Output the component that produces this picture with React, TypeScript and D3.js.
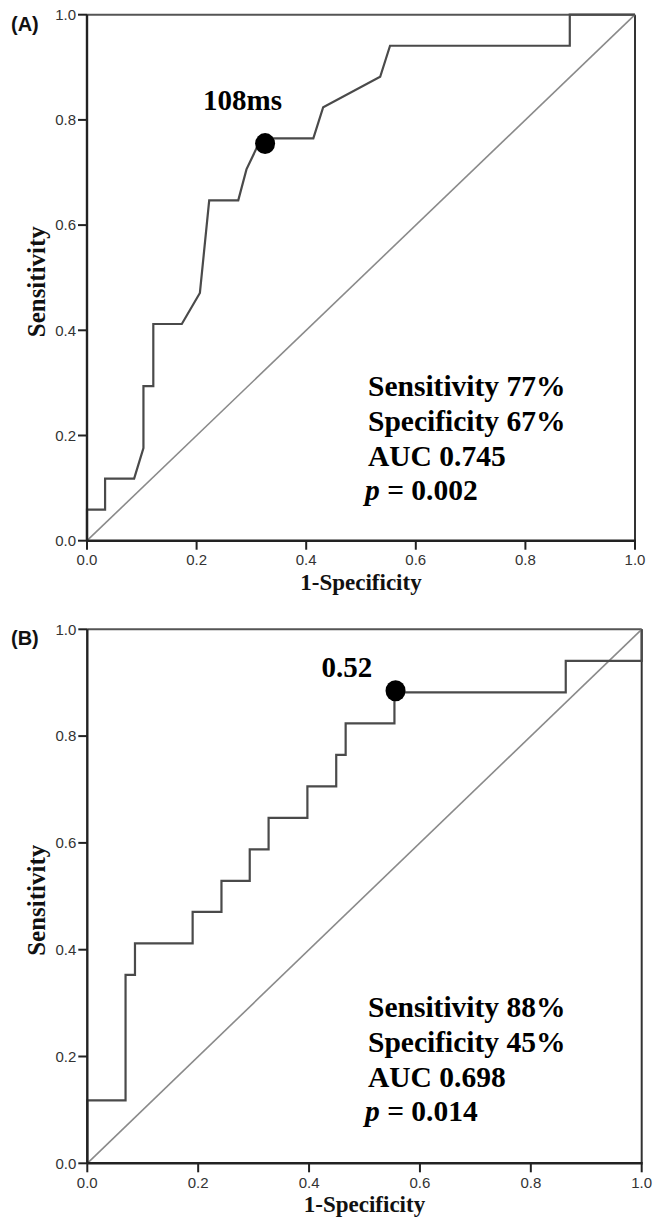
import React from 'react'
import * as d3 from 'd3'

// ROC curve A (1-specificity, sensitivity)
const rocAX = [0, 0, 0.033, 0.033, 0.086, 0.103, 0.103, 0.121, 0.121, 0.173, 0.206, 0.223, 0.276, 0.291, 0.318, 0.413, 0.431, 0.535, 0.553, 0.881, 0.881, 1.0]
const rocAY = [0, 0.059, 0.059, 0.118, 0.118, 0.176, 0.294, 0.294, 0.412, 0.412, 0.471, 0.647, 0.647, 0.706, 0.765, 0.765, 0.824, 0.882, 0.941, 0.941, 1.0, 1.0]

// ROC curve B
const rocBX = [0, 0, 0.069, 0.069, 0.086, 0.086, 0.19, 0.19, 0.242, 0.242, 0.293, 0.293, 0.327, 0.327, 0.397, 0.397, 0.449, 0.449, 0.466, 0.466, 0.554, 0.554, 0.863, 0.863, 1.0, 1.0]
const rocBY = [0, 0.118, 0.118, 0.353, 0.353, 0.412, 0.412, 0.471, 0.471, 0.529, 0.529, 0.588, 0.588, 0.647, 0.647, 0.706, 0.706, 0.765, 0.765, 0.824, 0.824, 0.882, 0.882, 0.941, 0.941, 1.0]

const cutoffA = { x: 0.325, y: 0.755, label: '108ms' }
const cutoffB = { x: 0.556, y: 0.885, label: '0.52' }

const statsA = ['Sensitivity 77%', 'Specificity 67%', 'AUC 0.745', '0.002']
const statsB = ['Sensitivity 88%', 'Specificity 45%', 'AUC 0.698', '0.014']

const tickValues = [0, 0.2, 0.4, 0.6, 0.8, 1.0]

const serif = '"Liberation Serif", "Times New Roman", serif'
const sans = '"Liberation Sans", Arial, sans-serif'

type PanelProps = {
  tag: string
  xs: number[]
  ys: number[]
  cutoff: { x: number; y: number; label: string }
  stats: string[]
  left: number
  right: number
  top: number
  bottom: number
  labelDx: number
  labelDy: number
  statsY: number
}

function Panel(p: PanelProps) {
  const x = d3.scaleLinear().domain([0, 1]).range([p.left, p.right])
  const y = d3.scaleLinear().domain([0, 1]).range([p.bottom, p.top])
  const pts = p.xs.map((v, i) => [v, p.ys[i]] as [number, number])
  const line = d3.line<[number, number]>().x(d => x(d[0])).y(d => y(d[1]))
  const cx = x(p.cutoff.x)
  const cy = y(p.cutoff.y)

  return (
    <g>
      <text x={11} y={p.top + 16} fontFamily={sans} fontWeight="bold" fontSize={20} fill="#111">{p.tag}</text>

      {/* frame */}
      <line x1={p.left} x2={p.right} y1={p.top} y2={p.top} stroke="#555" strokeWidth={2} />
      <line x1={p.right} x2={p.right} y1={p.top} y2={p.bottom} stroke="#333" strokeWidth={2} />

      {/* reference diagonal */}
      <line x1={x(0)} y1={y(0)} x2={x(1)} y2={y(1)} stroke="#8a8a8a" strokeWidth={1.6} />

      <path d={line(pts) || ''} fill="none" stroke="#4a4a4a" strokeWidth={2.2} />

      {/* axes */}
      <line x1={p.left} x2={p.left} y1={p.top} y2={p.bottom} stroke="#222" strokeWidth={2.4} />
      <line x1={p.left} x2={p.right + 1} y1={p.bottom} y2={p.bottom} stroke="#222" strokeWidth={2.4} />

      {tickValues.map(t => (
        <g key={'y' + t}>
          <line x1={p.left - 9} x2={p.left} y1={y(t)} y2={y(t)} stroke="#222" strokeWidth={2} />
          <text x={p.left - 11} y={y(t)} dy="0.35em" textAnchor="end" fontFamily={sans} fontSize={15} fill="#333">{t.toFixed(1)}</text>
        </g>
      ))}
      {tickValues.map(t => (
        <g key={'x' + t}>
          <line x1={x(t)} x2={x(t)} y1={p.bottom} y2={p.bottom + 9} stroke="#222" strokeWidth={2} />
          <text x={x(t)} y={p.bottom + 19} dy="0.35em" textAnchor="middle" fontFamily={sans} fontSize={15} fill="#333">{t.toFixed(1)}</text>
        </g>
      ))}

      <text x={(p.left + p.right) / 2} y={p.bottom + 49} textAnchor="middle" fontFamily={serif} fontWeight="bold" fontSize={23} fill="#111">1-Specificity</text>
      <text transform={`translate(45,${(p.top + p.bottom) / 2 + 4}) rotate(-90)`} textAnchor="middle" fontFamily={serif} fontWeight="bold" fontSize={25} fill="#111">Sensitivity</text>

      <ellipse cx={cx} cy={cy} rx={10} ry={10.5} fill="#000" />
      <text x={cx + p.labelDx} y={cy + p.labelDy} fontFamily={serif} fontWeight="bold" fontSize={29} fill="#000">{p.cutoff.label}</text>

      <g fontFamily={serif} fontWeight="bold" fontSize={29.5} fill="#000">
        <text x={368} y={p.statsY}>{p.stats[0]}</text>
        <text x={368} y={p.statsY + 35}>{p.stats[1]}</text>
        <text x={368} y={p.statsY + 70}>{p.stats[2]}</text>
        <text x={365} y={p.statsY + 104}>
          <tspan fontStyle="italic">p</tspan>
          <tspan> = {p.stats[3]}</tspan>
        </text>
      </g>
    </g>
  )
}

export default function App() {
  return (
    <svg width={654} height={1218} style={{ position: 'absolute', left: 0, top: 0, background: '#fff' }}>
      <rect width={654} height={1218} fill="#fff" />
      <Panel tag="(A)" xs={rocAX} ys={rocAY} cutoff={cutoffA} stats={statsA}
        left={87} right={635} top={14.7} bottom={540.7} labelDx={-62} labelDy={-34} statsY={396} />
      <Panel tag="(B)" xs={rocBX} ys={rocBY} cutoff={cutoffB} stats={statsB}
        left={87.3} right={641.7} top={629.3} bottom={1163.3} labelDx={-74} labelDy={-13.5} statsY={1017} />
    </svg>
  )
}
